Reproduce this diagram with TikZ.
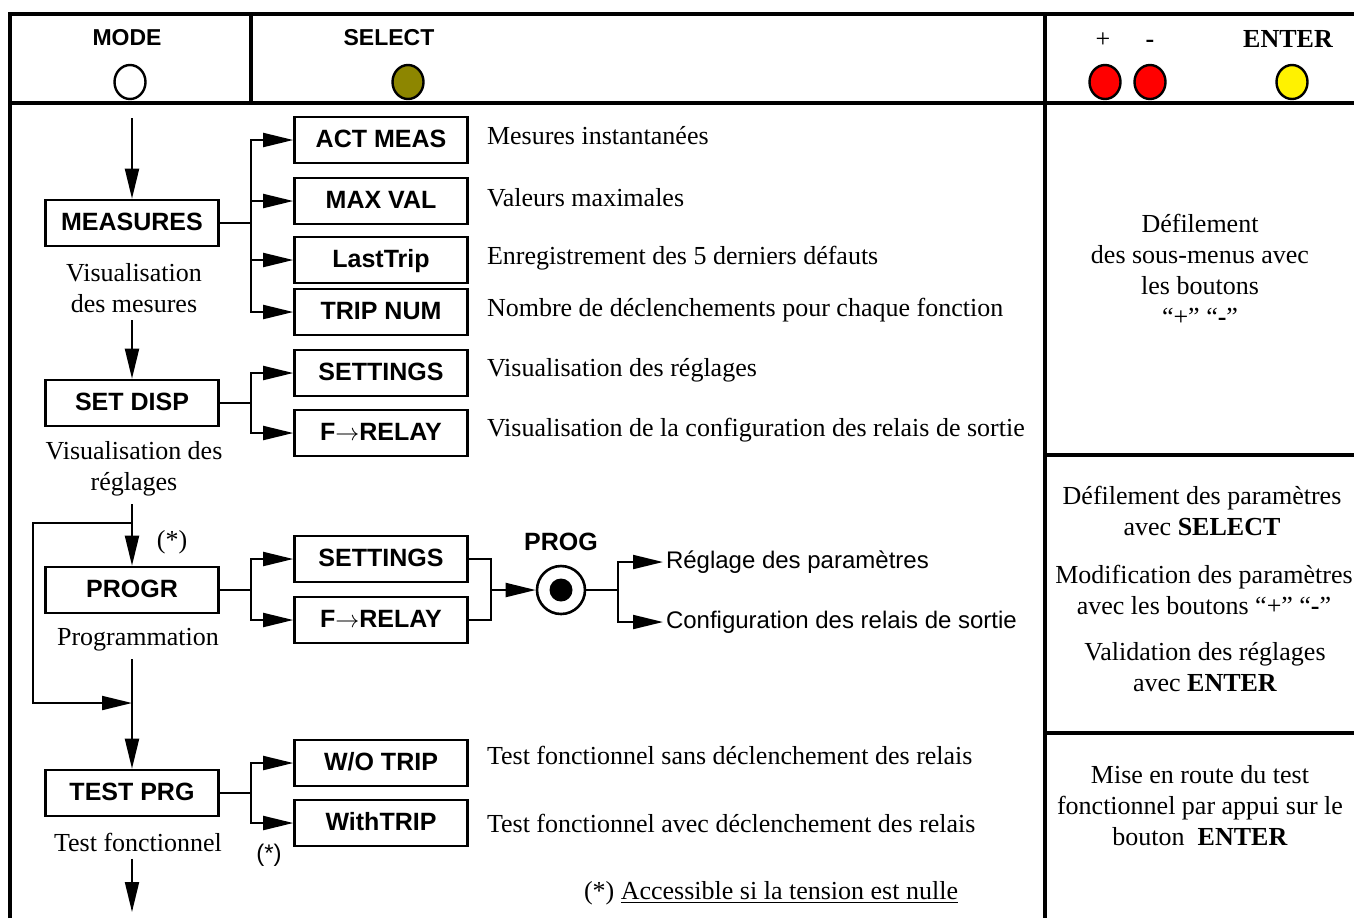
\documentclass[tikz,border=0pt]{standalone}
\usepackage{fontspec}
\setmainfont{Liberation Serif}
\setsansfont{Liberation Sans}
\usetikzlibrary{arrows.meta,shapes.geometric}
\tikzset{>={Triangle[length=15pt,width=7pt]}}

\begin{document}
\begin{tikzpicture}[x=0.5pt,y=-0.5pt,line width=1pt,font=\fontsize{13}{15.5}\selectfont]
\tikzstyle{frame}=[line width=2.3pt]
\tikzstyle{box}=[draw,line width=1.3pt,minimum width=86.5pt,minimum height=23pt,inner sep=0,text height=9pt,text depth=2pt,font=\sffamily\bfseries\fontsize{12.5}{14}\selectfont]
\tikzstyle{hd}=[font=\sffamily\bfseries\fontsize{11.5}{13}\selectfont]
\tikzstyle{key}=[text height=9pt,text depth=3pt,inner sep=0]
\tikzstyle{btn}=[ellipse,draw,line width=1.2pt,minimum width=15.5pt,minimum height=17pt,inner sep=0]
\tikzstyle{lbl}=[align=center]
\tikzstyle{desc}=[anchor=west,inner sep=0,text height=9pt,text depth=3pt]
\tikzstyle{sdesc}=[anchor=west,inner sep=1pt,text height=9pt,text depth=3pt,font=\sffamily\fontsize{12}{14}\selectfont]

    \useasboundingbox (0,0) rectangle (1354,918);

    \draw[frame] (10,918) -- (10,14) -- (1354,14);
    \draw[frame] (10,103) -- (1354,103);
    \draw[frame] (251,14) -- (251,103);
    \draw[frame] (1045,14) -- (1045,918);
    \draw[frame] (1045,455) -- (1354,455);
    \draw[frame] (1045,733) -- (1354,733);

    \node[hd] (mode) at (127,38) {MODE};
    \node[btn,fill=white] (bmode) at (130,82) {};
    \node[hd] (sel) at (389,38) {SELECT};
    \node[btn,fill=olive] (bsel) at (408,82) {};
    \node[key] (plus) at (1103,41) {+};
    \node[key] (minus) at (1150,41) {\textbf{-}};
    \node[key,font=\bfseries\fontsize{13}{15.5}\selectfont] (enter) at (1288,41) {ENTER};
    \node[btn,fill=red] (bplus) at (1105,82) {};
    \node[btn,fill=red] (bminus) at (1150,82) {};
    \node[btn,fill=yellow] (benter) at (1292,82) {};

    \node[box] (mes) at (132,223) {MEASURES};
    \node[box] (sd) at (132,403) {SET DISP};
    \node[box] (pr) at (132,590) {PROGR};
    \node[box] (tp) at (132,793) {TEST PRG};

    \node[lbl] (lmes) at (134,288) {Visualisation\\des mesures};
    \node[lbl] (lsd) at (134,469) {Visualisation des\\réglages};
    \node[lbl] (lpr) at (138,640) {Programmation};
    \node[lbl] (ltp) at (138,842) {Test fonctionnel};

    \node[box] (am) at (381,140) {ACT MEAS};
    \node[box] (mv) at (381,201) {MAX VAL};
    \node[box] (lt) at (381,260) {LastTrip};
    \node[box] (tn) at (381,312) {TRIP NUM};
    \node[box] (st1) at (381,373) {SETTINGS};
    \node[box] (fr1) at (381,433) {F$\rightarrow$RELAY};
    \node[box] (st2) at (381,559) {SETTINGS};
    \node[box] (fr2) at (381,620) {F$\rightarrow$RELAY};
    \node[box] (wo) at (381,763) {W/O TRIP};
    \node[box] (wt) at (381,823) {WithTRIP};

    \node[desc] (dam) at (486,138) {Mesures instantanées};
    \node[desc] (dmv) at (486,200) {Valeurs maximales};
    \node[desc] (dlt) at (486,258) {Enregistrement des 5 derniers défauts};
    \node[desc] (dtn) at (486,310) {Nombre de déclenchements pour chaque fonction};
    \node[desc] (dst) at (486,370) {Visualisation des réglages};
    \node[desc] (dfr) at (486,430) {Visualisation de la configuration des relais de sortie};
    \node[desc] (dwo) at (486,758) {Test fonctionnel sans déclenchement des relais};
    \node[desc] (dwt) at (486,826) {Test fonctionnel avec déclenchement des relais};

    \coordinate (top) at (132,118);
    \draw[->] (top) -- (mes);
    \draw[->] (lmes.south -| sd) -- (sd);
    \draw[->] (lsd.south -| pr) -- (pr);
    \coordinate (sp) at (132,523);
    \coordinate (jn) at (132,703);
    \draw[->] (sp) -- ++(-99,0) |- (jn);
    \draw[->] (lpr.south -| tp) -- (tp);
    \coordinate (bot) at (132,912);
    \draw[->] (ltp.south -| tp) -- (bot);

    \foreach \s in {am,mv,lt,tn} \draw[->] (mes.east) -- ++(31,0) |- (\s.west);
    \foreach \s in {st1,fr1} \draw[->] (sd.east) -- ++(31,0) |- (\s.west);
    \foreach \s in {st2,fr2} \draw[->] (pr.east) -- ++(31,0) |- (\s.west);
    \foreach \s in {wo,wt} \draw[->] (tp.east) -- ++(31,0) |- (\s.west);

    \coordinate (mg) at (491,590);
    \draw (st2.east) -| (mg);
    \draw (fr2.east) -| (mg);
    \node[circle,draw,line width=1.3pt,minimum size=24pt,inner sep=0] (pg) at (561,590) {};
    \node[circle,fill=black,minimum size=11.5pt,inner sep=0] (pgd) at (pg) {};
    \node[font=\sffamily\bfseries\fontsize{12.5}{14}\selectfont] (pgl) at (561,542) {PROG};
    \draw[->] (mg) -- (pg);
    \coordinate (br) at (618,590);
    \draw (pg) -- (br);
    \node[sdesc] (rp) at (663,562) {Réglage des paramètres};
    \node[sdesc] (cr) at (663,622) {Configuration des relais de sortie};
    \draw[->] (br) |- (rp.west);
    \draw[->] (br) |- (cr.west);

    \node (ast1) at (172,542) {(*)};
    \node[font=\sffamily\fontsize{12}{14}\selectfont] (ast2) at (269,855) {(*)};
    \node[anchor=west,inner sep=0] (note) at (583,893) {(*) \underline{Accessible si la tension est nulle}};

    \node[lbl] (r1) at (1200,270) {Défilement\\des sous-menus avec\\les boutons\\“+” “\textbf{-}”};
    \node[lbl] (r2) at (1202,511) {Défilement des paramètres\\avec \textbf{SELECT}};
    \node[lbl] (r3) at (1204,590) {Modification des paramètres\\avec les boutons “+” “\textbf{-}”};
    \node[lbl] (r4) at (1205,667) {Validation des réglages\\avec \textbf{ENTER}};
    \node[lbl] (r5) at (1200,806) {Mise en route du test\\fonctionnel par appui sur le\\bouton~ \textbf{ENTER}};

\end{tikzpicture}
\end{document}
